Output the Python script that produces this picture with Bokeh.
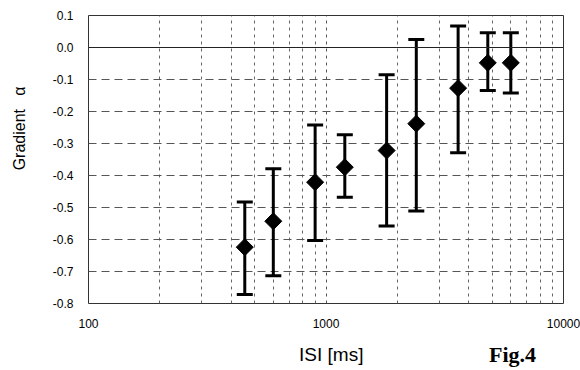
import math
from bokeh.plotting import figure
from bokeh.models import (ColumnDataSource, Whisker, TeeHead, FixedTicker, Span,
                          CustomJSTickFormatter, LogAxis)
from bokeh.embed import file_html
from bokeh.resources import INLINE

# data
isi_ms = [455, 600, 900, 1200, 1800, 2400, 3600, 4800, 6000]
gradient = [-0.624, -0.543, -0.421, -0.374, -0.322, -0.238, -0.127, -0.048, -0.048]
err_upper = [-0.483, -0.379, -0.242, -0.273, -0.085, 0.025, 0.067, 0.046, 0.046]
err_lower = [-0.772, -0.713, -0.603, -0.468, -0.558, -0.511, -0.329, -0.134, -0.142]

x_major = [100, 1000, 10000]
x_minor = [200, 300, 400, 500, 600, 700, 800, 900,
           2000, 3000, 4000, 5000, 6000, 7000, 8000, 9000]
y_ticks = [0.1, 0.0, -0.1, -0.2, -0.3, -0.4, -0.5, -0.6, -0.7, -0.8]
x_title = "ISI [ms]"
y_title = "Gradient\u00a0\u00a0\u00a0\u03b1"
fig_tag = "Fig.4"
fig_tag_x = 6100

src = ColumnDataSource(dict(x=isi_ms, y=gradient, up=err_upper, lo=err_lower))

p = figure(width=580, height=370, x_axis_type="log", x_range=(100, 10000),
           y_range=(-0.8, 0.1), output_backend="svg", toolbar_location=None,
           min_border_left=88, min_border_right=17, min_border_top=15, min_border_bottom=67)
p.background_fill_color = "white"
p.border_fill_color = "white"
p.outline_line_color = "#333333"
p.outline_line_width = 1

def plain(ax):
    ax.axis_line_color = None
    ax.major_tick_line_color = None
    ax.minor_tick_line_color = None
    ax.major_tick_out = 0
    ax.minor_tick_out = 0
    ax.major_tick_in = 0
    ax.minor_tick_in = 0
    ax.major_label_text_font = "Liberation Sans"
    ax.major_label_text_font_size = "12px"
    ax.major_label_text_color = "black"

xa = p.xaxis[0]
ya = p.yaxis[0]
plain(xa)
plain(ya)

xa.ticker = FixedTicker(ticks=x_major, minor_ticks=x_minor)
xa.formatter = CustomJSTickFormatter(code="return String(Math.round(tick));")
xa.major_label_standoff = 15
xa.axis_label = "\u00a0\u00a0" + x_title
xa.axis_label_text_font = "Liberation Sans"
xa.axis_label_text_font_style = "normal"
xa.axis_label_text_font_size = "19px"
xa.axis_label_text_color = "black"
xa.axis_label_standoff = 13

ya.ticker = FixedTicker(ticks=y_ticks)
ya.formatter = CustomJSTickFormatter(code="return tick.toFixed(1);")
ya.major_label_standoff = 15
ya.axis_label = "\u00a0" * 14 + y_title
ya.axis_label_text_font = "Liberation Sans"
ya.axis_label_text_font_style = "normal"
ya.axis_label_text_font_size = "16px"
ya.axis_label_text_color = "black"
ya.axis_label_standoff = 22

# second bottom axis carrying only the figure tag
tag_axis = LogAxis(ticker=FixedTicker(ticks=[fig_tag_x]),
                   major_label_overrides={fig_tag_x: fig_tag})
plain(tag_axis)
tag_axis.major_label_text_font = "Liberation Serif"
tag_axis.major_label_text_font_style = "bold"
tag_axis.major_label_text_font_size = "22px"
tag_axis.major_label_standoff = -26
p.add_layout(tag_axis, "below")

# grid
p.xgrid.ticker = FixedTicker(ticks=x_major, minor_ticks=x_minor)
p.xgrid.grid_line_color = "#555555"
p.xgrid.grid_line_dash = "3 4"
p.xgrid.grid_line_width = 1
p.xgrid.minor_grid_line_color = "#666666"
p.xgrid.minor_grid_line_dash = "3 4"
p.xgrid.minor_grid_line_width = 1
p.ygrid.ticker = FixedTicker(ticks=y_ticks)
p.ygrid.grid_line_color = "#555555"
p.ygrid.grid_line_dash = "8 5"
p.ygrid.grid_line_width = 1

p.add_layout(Span(location=0.0, dimension="width", line_color="#222222", line_width=1))

# error bars
w = Whisker(source=src, base="x", upper="up", lower="lo", dimension="height",
            line_color="black", line_width=3,
            upper_head=TeeHead(size=16, line_color="black", line_width=3),
            lower_head=TeeHead(size=16, line_color="black", line_width=3))
p.add_layout(w)

p.scatter("x", "y", source=src, marker="square", angle=math.pi / 4, size=12,
          fill_color="black", line_color="black")

open("out.html", "w").write(file_html(p, INLINE))
